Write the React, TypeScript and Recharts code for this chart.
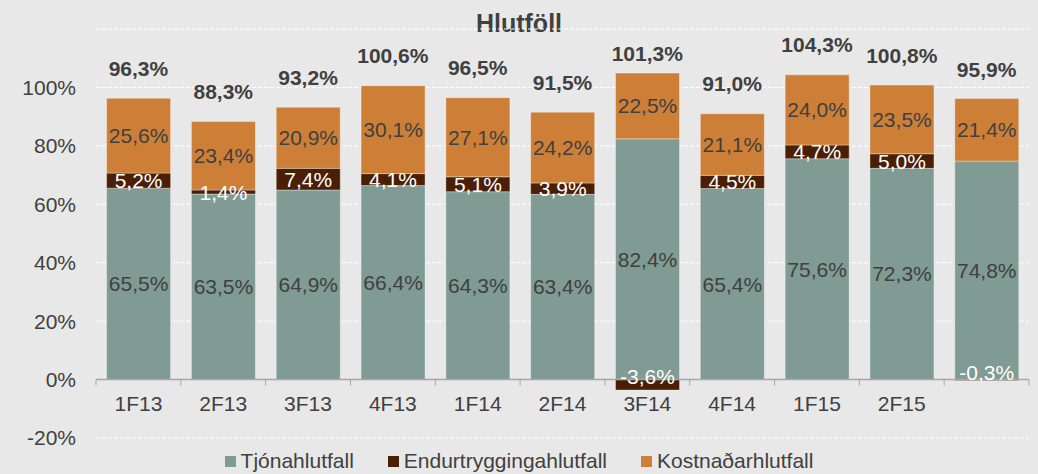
import React from 'react';
import {
  ComposedChart, Bar, Line, XAxis, YAxis, CartesianGrid, ReferenceLine, LabelList, Legend,
} from 'recharts';

const categories = ['1F13', '2F13', '3F13', '4F13', '1F14', '2F14', '3F14', '4F14', '1F15', '2F15', ''];
const tjonahlutfall = [65.5, 63.5, 64.9, 66.4, 64.3, 63.4, 82.4, 65.4, 75.6, 72.3, 74.8];
const endurtryggingahlutfall = [5.2, 1.4, 7.4, 4.1, 5.1, 3.9, -3.6, 4.5, 4.7, 5.0, -0.3];
const kostnadarhlutfall = [25.6, 23.4, 20.9, 30.1, 27.1, 24.2, 22.5, 21.1, 24.0, 23.5, 21.4];
const samtals = [96.3, 88.3, 93.2, 100.6, 96.5, 91.5, 101.3, 91.0, 104.3, 100.8, 95.9];
const yTicks = [-20, 0, 20, 40, 60, 80, 100];
const yDomain = [-20, 120];

const data = categories.map((c, i) => ({
  name: c,
  tjon: tjonahlutfall[i],
  endur: endurtryggingahlutfall[i],
  kostn: kostnadarhlutfall[i],
  total: samtals[i],
}));

const W = 1038;
const H = 474;
const MARGIN = { top: 29, right: 9, left: 0, bottom: 0 };
const Y_W = 96;
const X_H = 10;
const LEG_H = 26;
const PLOT_W = W - MARGIN.right - Y_W;
const PLOT_H = H - MARGIN.top - X_H - LEG_H;
const BAND = PLOT_W / categories.length;
const ZERO_SHIFT = PLOT_H * (0 - yDomain[0]) / (yDomain[1] - yDomain[0]);

const FONT = '"Liberation Sans", Arial, sans-serif';
const TXT = '#404040';
const GREEN = '#7F9B93';
const BROWN = '#4B1F05';
const ORANGE = '#CD7F37';
const AXIS = '#A6A6A6';

const fmt = (v: number) => v.toFixed(1).replace('.', ',') + '%';

const XTick = (props: any) => {
  const { x, y, payload, index } = props;
  const zy = y - ZERO_SHIFT;
  const half = BAND / 2;
  return (
    <g>
      <line x1={x - half} x2={x - half} y1={zy} y2={zy + 6} stroke={AXIS} strokeWidth={1} />
      {index === categories.length - 1 && (
        <line x1={x + half} x2={x + half} y1={zy} y2={zy + 6} stroke={AXIS} strokeWidth={1} />
      )}
      <text x={x} y={zy + 24} textAnchor="middle" dominantBaseline="central" fill={TXT}
        fontSize={21} fontFamily={FONT}>{payload.value}</text>
    </g>
  );
};

const segLabel = (color: string, negShift: number) => (props: any) => {
  const { x, y, width, height, value } = props;
  let cy = y + height / 2;
  if (value < 0) cy -= negShift;
  return (
    <text x={x + width / 2} y={cy} textAnchor="middle" dominantBaseline="central"
      fill={color} fontSize={21} fontFamily={FONT}>{fmt(value)}</text>
  );
};

const totalLabel = (props: any) => {
  const { x, y, value } = props;
  return (
    <text x={x} y={y - 30} textAnchor="middle" dominantBaseline="central"
      fill={TXT} fontSize={21} fontWeight="bold" fontFamily={FONT}>{fmt(value)}</text>
  );
};

const legendItems = [
  { label: 'Tjónahlutfall', color: GREEN },
  { label: 'Endurtryggingahlutfall', color: BROWN },
  { label: 'Kostnaðarhlutfall', color: ORANGE },
];

const LegendContent = () => (
  <div style={{ height: LEG_H, display: 'flex', justifyContent: 'center', alignItems: 'center',
    fontFamily: FONT, fontSize: 21, color: TXT, paddingLeft: 9 }}>
    {legendItems.map((it, i) => (
      <div key={i} style={{ display: 'flex', alignItems: 'center', marginRight: i < 2 ? 34 : 0 }}>
        <span style={{ width: 11, height: 11, background: it.color, display: 'inline-block', marginRight: 5 }} />
        <span>{it.label}</span>
      </div>
    ))}
  </div>
);

export default function App() {
  return (
    <div style={{ position: 'absolute', left: 0, top: 0, width: W, height: H, background: '#E8E8E8' }}>
      <div style={{ position: 'absolute', left: 0, top: 8, width: W, textAlign: 'center',
        fontFamily: FONT, fontWeight: 'bold', fontSize: 25, color: TXT, lineHeight: '30px' }}>Hlutföll</div>
      <ComposedChart width={W} height={H} data={data} margin={MARGIN} stackOffset="sign"
        barCategoryGap="12.5%">
        <CartesianGrid horizontal vertical={false} stroke="#FFFFFF" strokeDasharray="4 2" />
        <XAxis dataKey="name" height={X_H} axisLine={false} tickLine={false} tickSize={0} tickMargin={0}
          tick={<XTick />} interval={0} />
        <YAxis width={Y_W} domain={yDomain} ticks={yTicks} allowDataOverflow axisLine={false} tickLine={false}
          tickSize={0} tickMargin={20} tickFormatter={(v: number) => `${v}%`}
          tick={{ fill: TXT, fontSize: 21, fontFamily: FONT }} />
        <Legend verticalAlign="bottom" height={LEG_H} content={<LegendContent />} />
        <Bar dataKey="tjon" stackId="a" fill={GREEN} stroke="rgba(255,255,255,0.35)" strokeWidth={1} isAnimationActive={false}>
          <LabelList dataKey="tjon" content={segLabel(TXT, 0)} />
        </Bar>
        <Bar dataKey="endur" stackId="a" fill={BROWN} stroke="rgba(255,255,255,0.35)" strokeWidth={1} isAnimationActive={false}>
          <LabelList dataKey="endur" content={segLabel('#FFFFFF', 8)} />
        </Bar>
        <Bar dataKey="kostn" stackId="a" fill={ORANGE} stroke="rgba(255,255,255,0.35)" strokeWidth={1} isAnimationActive={false}>
          <LabelList dataKey="kostn" content={segLabel(TXT, 0)} />
        </Bar>
        <ReferenceLine y={0} stroke={AXIS} strokeWidth={1.5} />
        <Line dataKey="total" stroke="none" dot={false} activeDot={false} legendType="none" isAnimationActive={false}>
          <LabelList dataKey="total" content={totalLabel} />
        </Line>
      </ComposedChart>
    </div>
  );
}
